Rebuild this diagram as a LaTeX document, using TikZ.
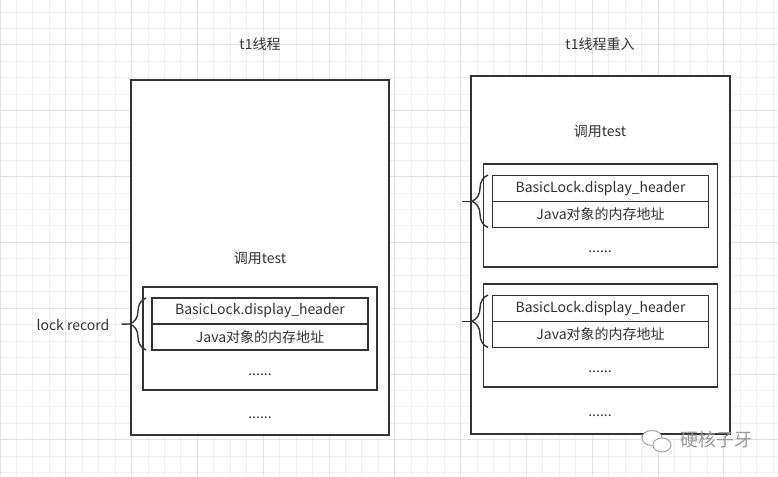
\documentclass[tikz,border=0pt]{standalone}
\usepackage{fontspec}
\setmainfont{Noto Sans CJK SC}
\usepackage{tikz}
\usetikzlibrary{positioning,decorations.pathreplacing}
\definecolor{ink}{HTML}{333333}
\definecolor{gridminor}{HTML}{F0F0F0}
\definecolor{gridmajor}{HTML}{E2E2E2}

\begin{document}
\begin{tikzpicture}[
  x=1pt, y=-1pt,
  frame/.style={rectangle, draw=ink, line width=1.8pt, fill=white, inner sep=0pt},
  stackbox/.style={rectangle, draw=ink, line width=1.8pt, inner sep=0pt,
              minimum width=234pt, minimum height=103pt},
  cell/.style={rectangle, draw=ink, line width=1.8pt, inner sep=0pt, outer sep=0pt,
              minimum width=216pt, minimum height=26pt,
              font=\fontsize{14}{16}\selectfont, text=ink},
  lbl/.style={font=\fontsize{14}{16}\selectfont, text=ink, inner sep=0pt},
  brc/.style={decorate, decoration={brace, amplitude=16pt}, draw=ink, line width=1.4pt},
  tip/.style={draw=ink, line width=1.4pt},
]
  \useasboundingbox (0,0) rectangle (778,476);
  \fill[white] (0,0) rectangle (778,476);
  % background grid
  \foreach \i in {0,...,47} {
    \draw[gridminor, line width=1pt] (\i*16.45,0) -- (\i*16.45,476);
  }
  \foreach \j in {0,...,28} {
    \draw[gridminor, line width=1pt] (0,12.1+\j*16.45) -- (778,12.1+\j*16.45);
  }
  \foreach \i in {0,...,11} {
    \draw[gridmajor, line width=1pt] (\i*65.8,0) -- (\i*65.8,476);
  }
  \foreach \j in {0,...,7} {
    \draw[gridmajor, line width=1pt] (0,45+\j*65.8) -- (778,45+\j*65.8);
  }

  % t1 thread
  \node[lbl] (titleA) at (260,44) {t1线程};
  \node[frame, minimum width=258pt, minimum height=355pt] (threadA) at (260,257.5) {};
  \node[lbl] (callA) at (260,258) {调用test};
  \node[stackbox] (frameA) at (260,338.5) {};
  \node[cell] (hdrA) at (260,311) {BasicLock.display\_header};
  \node[cell, below=0pt of hdrA] (objA) {Java对象的内存地址};
  \node[lbl] (dotsA) at (260,375) {......};
  \node[lbl] (moreA) at (260,418) {......};

  % t1 thread re-entry
  \node[lbl] (titleB) at (600,44) {t1线程重入};
  \node[frame, minimum width=259pt, minimum height=358pt] (threadB) at (600.5,255) {};
  \node[lbl] (callB) at (600,131) {调用test};
  \node[stackbox] (frameB) at (600.5,215.5) {};
  \node[cell] (hdrB) at (600.5,188.5) {BasicLock.display\_header};
  \node[cell, below=0pt of hdrB] (objB) {Java对象的内存地址};
  \node[lbl] (dotsB) at (600,252) {......};
  \node[stackbox] (frameC) at (600.5,335.5) {};
  \node[cell] (hdrC) at (600.5,308.5) {BasicLock.display\_header};
  \node[cell, below=0pt of hdrC] (objC) {Java对象的内存地址};
  \node[lbl] (dotsC) at (600,372) {......};
  \node[lbl] (moreB) at (600,416) {......};

  % lock record braces
  \node[lbl, inner xsep=12pt] (lockrec) at (73,325) {lock record};
  \draw[brc] (146,350) -- (146,298);
  \coordinate (tipA) at (130,324);
  \draw[tip] (lockrec) -- (tipA);

  \draw[brc] (488,227.5) -- (488,175);
  \coordinate (tipB) at (472,201.5);
  \coordinate (endB) at (462,201.5);
  \draw[tip] (endB) -- (tipB);

  \draw[brc] (488,347.5) -- (488,295);
  \coordinate (tipC) at (472,321.5);
  \coordinate (endC) at (462,321.5);
  \draw[tip] (endC) -- (tipC);

  % watermark
  \draw[gray!70, line width=1pt, fill=white] (652,438) ellipse (10 and 7.5);
  \draw[gray!70, line width=1pt, fill=white] (662,445) ellipse (9 and 7);
  \node[font=\fontsize{18}{20}\selectfont, text=gray!80, inner sep=0pt] (mark) at (716,440) {硬核子牙};
\end{tikzpicture}
\end{document}
